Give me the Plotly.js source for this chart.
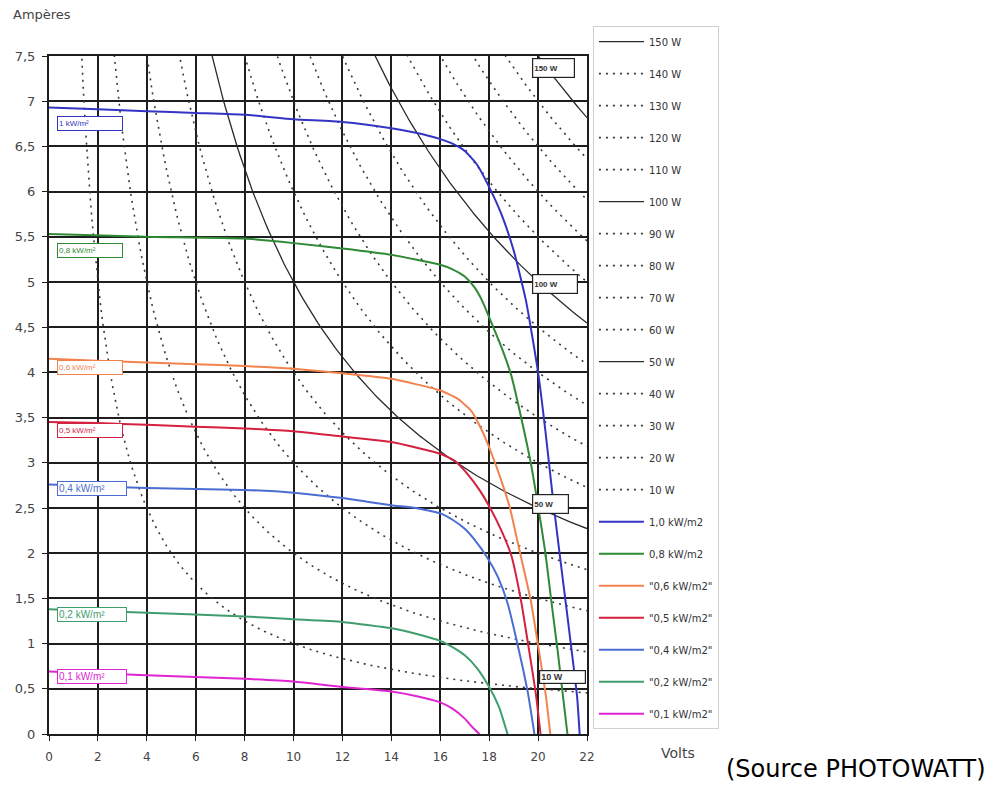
<!DOCTYPE html>
<html>
<head>
<meta charset="utf-8">
<script src="https://cdn.plot.ly/plotly-3.0.1.min.js"></script>
<style>html,body{margin:0;padding:0;background:#fff;}#chart{width:993px;height:785px;}</style>
</head>
<body>
<div id="chart"></div>
<script>
// ---- Data ----
// Iso-power curves (W); I = P / V
const powerLevels = [150, 140, 130, 120, 110, 100, 90, 80, 70, 60, 50, 40, 30, 20, 10];
const powerSolid  = [150, 100, 50];

// I-V curves (Volts, Amperes)
const ivNames = ["1,0 kW/m2", "0,8 kW/m2", "\"0,6 kW/m2\"", "\"0,5 kW/m2\"", "\"0,4 kW/m2\"", "\"0,2 kW/m2\"", "\"0,1 kW/m2\""];
const iv10V = [0, 2, 4, 6, 8, 10, 12, 14, 15, 16, 16.5, 17, 17.5, 18, 18.5, 19, 19.5, 20, 20.3, 20.6, 20.9, 21.2, 21.45, 21.6, 21.7];
const iv10I = [6.93, 6.91, 6.89, 6.87, 6.85, 6.80, 6.77, 6.70, 6.65, 6.58, 6.53, 6.45, 6.30, 6.05, 5.75, 5.35, 4.80, 4.0, 3.35, 2.62, 1.95, 1.30, 0.75, 0.40, 0];
const iv08V = [0, 4, 8, 10, 12, 14, 16, 16.5, 17, 17.4, 17.7, 18, 18.5, 18.9, 19.3, 19.7, 20, 20.3, 20.55, 20.8, 21.0, 21.2];
const iv08I = [5.53, 5.50, 5.48, 5.43, 5.37, 5.30, 5.19, 5.14, 5.06, 4.94, 4.80, 4.61, 4.28, 3.97, 3.51, 3.0, 2.52, 2.0, 1.45, 0.92, 0.46, 0];
const iv06V = [0, 2, 6, 8, 10, 12, 14, 16, 16.7, 17.25, 17.7, 18.1, 18.5, 18.85, 19.1, 19.35, 19.7, 20.0, 20.3, 20.5];
const iv06I = [4.15, 4.13, 4.09, 4.07, 4.04, 3.99, 3.93, 3.80, 3.71, 3.58, 3.36, 3.10, 2.80, 2.50, 2.20, 1.90, 1.48, 0.98, 0.46, 0];
const iv05V = [0, 2, 4, 6, 8, 10, 12, 14, 15, 16, 16.6, 17.1, 17.6, 18.0, 18.5, 18.9, 19.3, 19.6, 19.9, 20.1];
const iv05I = [3.45, 3.44, 3.42, 3.40, 3.38, 3.35, 3.29, 3.23, 3.17, 3.10, 3.02, 2.88, 2.70, 2.52, 2.25, 1.98, 1.48, 0.98, 0.46, 0];
const iv04V = [0, 2, 4, 6, 8, 10, 12, 13, 14, 15, 16, 16.5, 17, 17.4, 17.9, 18.35, 18.75, 19.17, 19.58, 19.85];
const iv04I = [2.76, 2.74, 2.72, 2.71, 2.70, 2.67, 2.61, 2.57, 2.53, 2.50, 2.44, 2.37, 2.27, 2.15, 1.96, 1.74, 1.45, 0.98, 0.46, 0];
const iv02V = [0, 4, 8, 10, 12, 14, 15, 16, 16.5, 17, 17.5, 18, 18.4, 18.75];
const iv02I = [1.38, 1.34, 1.30, 1.27, 1.24, 1.17, 1.11, 1.03, 0.96, 0.87, 0.73, 0.52, 0.30, 0];
const iv01V = [0, 4, 8, 10, 12, 14, 15, 16, 16.5, 17.0, 17.3, 17.6];
const iv01I = [0.69, 0.65, 0.61, 0.58, 0.52, 0.47, 0.42, 0.35, 0.28, 0.17, 0.08, 0];

const ivColors = ["#3434c4", "#2f8a35", "#f2834f", "#d4213f", "#4b6dd2", "#3f9d6e", "#e024d2"];

const xTickVals = [0, 2, 4, 6, 8, 10, 12, 14, 16, 18, 20, 22];
const xTickText = ["0", "2", "4", "6", "8", "10", "12", "14", "16", "18", "20", "22"];
const yTickVals = [0, 0.5, 1, 1.5, 2, 2.5, 3, 3.5, 4, 4.5, 5, 5.5, 6, 6.5, 7, 7.5];
const yTickText = ["0", "0,5", "1", "1,5", "2", "2,5", "3", "3,5", "4", "4,5", "5", "5,5", "6", "6,5", "7", "7,5"];

const curveLabels = ["1 kW/m²", "0,8 kW/m²", "0,6 kW/m²", "0,5 kW/m²", "0,4 kW/m²", "0,2 kW/m²", "0,1 kW/m²"];
const curveLabelI = [6.75, 5.35, 4.05, 3.36, 2.72, 1.32, 0.64];
const curveLabelSize = [8, 8, 8, 8, 10, 10, 10];
const powerLabels = ["150 W", "100 W", "50 W", "10 W"];
const powerLabelV = [19.75, 19.75, 19.75, 20.05];
const powerLabelI = [7.37, 4.98, 2.54, 0.63];
const powerLabelW = [39, 42, 33, 43];

// ---- Build traces ----
const traces = [];
// voltage grid for the iso-power curves
const vGrid = [];
for (let v = 0.8; v <= 22.0001; v += 0.1) vGrid.push(+v.toFixed(2));

powerLevels.forEach((p, k) => {
  const solid = powerSolid.includes(p);
  traces.push({
    type: "scatter", mode: "lines",
    name: p + " W",
    legendgroup: "g" + k,
    x: vGrid, y: vGrid.map(v => p / v),
    line: solid ? {color: "#2a2a2a", width: 1.3} : {color: "#3a3a3a", width: 1.6, dash: "2px,5px"},
    hoverinfo: "skip"
  });
});

const ivV = [iv10V, iv08V, iv06V, iv05V, iv04V, iv02V, iv01V];
const ivI = [iv10I, iv08I, iv06I, iv05I, iv04I, iv02I, iv01I];
ivNames.forEach((n, k) => {
  traces.push({
    type: "scatter", mode: "lines",
    name: n,
    legendgroup: "h" + k,
    x: ivV[k], y: ivI[k],
    line: {color: ivColors[k], width: 2, shape: "spline", smoothing: 0.5}
  });
});

// ---- Annotations ----
const FONT = "DejaVu Sans, Verdana, sans-serif";
const annotations = [];
curveLabels.forEach((t, k) => {
  annotations.push({
    x: 0.33, y: curveLabelI[k], xref: "x", yref: "y", xanchor: "left", yanchor: "middle",
    text: t, showarrow: false,
    font: {family: "Liberation Sans, Arial, sans-serif", size: curveLabelSize[k], color: ivColors[k]},
    bgcolor: "#ffffff", bordercolor: ivColors[k], borderwidth: 1, borderpad: 1,
    width: k < 4 ? 62 : 66, height: 11, align: "left"
  });
});
powerLabels.forEach((t, k) => {
  annotations.push({
    x: powerLabelV[k], y: powerLabelI[k], xref: "x", yref: "y", xanchor: "left", yanchor: "middle",
    text: "<b>" + t + "</b>", showarrow: false,
    font: {family: "Liberation Sans, Arial, sans-serif", size: k === 3 ? 9 : 8, color: "#333"},
    bgcolor: "#ffffff", bordercolor: "#222", borderwidth: 1.2, borderpad: 1,
    width: powerLabelW[k], height: k === 3 ? 10 : 16, align: "left"
  });
});
annotations.push({
  xref: "paper", yref: "paper", x: -0.07, y: 1.061, xanchor: "left", yanchor: "middle",
  text: "Ampères", showarrow: false,
  font: {family: FONT, size: 13, color: "#444"}
});
annotations.push({
  xref: "paper", yref: "paper", x: 1.169, y: -0.028, xanchor: "center", yanchor: "middle",
  text: "Volts", showarrow: false,
  font: {family: FONT, size: 14, color: "#444"}
});
annotations.push({
  xref: "paper", yref: "paper", x: 1.256, y: -0.0735, xanchor: "left", yanchor: "bottom",
  text: "(Source PHOTOWATT)", showarrow: false, borderpad: 0,
  font: {family: FONT, size: 24, color: "#000"}
});

const layout = {
  width: 993, height: 785,
  margin: {l: 49, r: 406, t: 56, b: 51, pad: 0},
  paper_bgcolor: "#fff", plot_bgcolor: "#fff",
  font: {family: FONT, size: 12, color: "#444"},
  showlegend: true,
  legend: {
    x: 1.011, y: 1.044, xanchor: "left", yanchor: "top",
    bgcolor: "#fff", bordercolor: "#d0d0d0", borderwidth: 1,
    font: {family: FONT, size: 10, color: "#333"},
    tracegroupgap: 13, itemwidth: 45, traceorder: "grouped", maxheight: 780
  },
  xaxis: {
    range: [0, 22], tickvals: xTickVals, ticktext: xTickText,
    showgrid: true, gridcolor: "#1e1e1e", gridwidth: 2,
    showline: true, linecolor: "#1e1e1e", linewidth: 2, mirror: true,
    ticks: "outside", ticklen: 5, tickcolor: "#1e1e1e", zeroline: false,
    tickfont: {family: FONT, size: 12, color: "#444"}, ticklabelstandoff: 6, fixedrange: true
  },
  yaxis: {
    range: [0, 7.5], tickvals: yTickVals, ticktext: yTickText,
    showgrid: true, gridcolor: "#1e1e1e", gridwidth: 2,
    showline: true, linecolor: "#1e1e1e", linewidth: 2, mirror: true,
    ticks: "outside", ticklen: 5, tickcolor: "#1e1e1e", zeroline: false,
    tickfont: {family: FONT, size: 13, color: "#444"}, ticklabelstandoff: 4, fixedrange: true
  },
  annotations: annotations
};

Plotly.newPlot("chart", traces, layout, {displayModeBar: false, staticPlot: true});
</script>
</body>
</html>
